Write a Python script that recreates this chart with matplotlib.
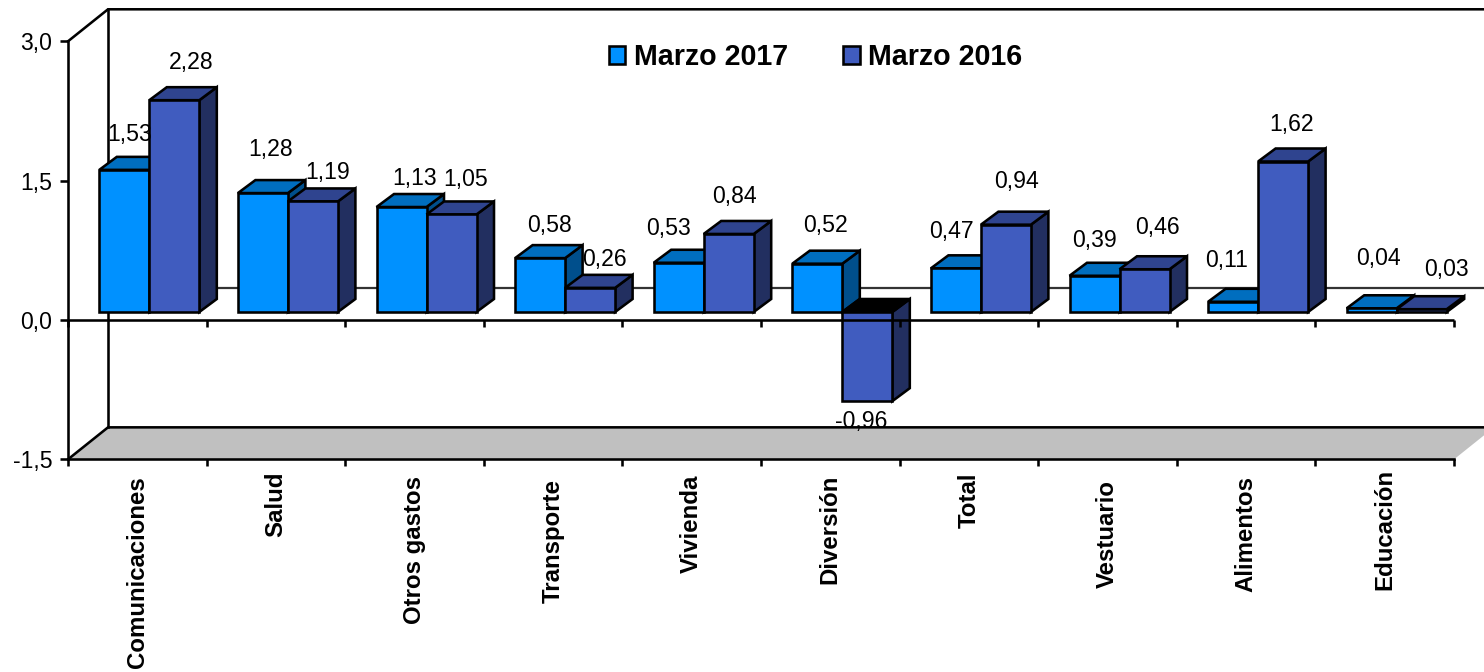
import matplotlib
matplotlib.use("Agg")
import matplotlib.pyplot as plt
from matplotlib.patches import Polygon, Patch
from matplotlib.transforms import Affine2D, IdentityTransform

plt.rcParams['font.family'] = ['Liberation Sans', 'DejaVu Sans']

# ---- data ----
categories = ['Comunicaciones', 'Salud', 'Otros gastos', 'Transporte', 'Vivienda',
              'Diversión', 'Total', 'Vestuario', 'Alimentos', 'Educación']
marzo_2017 = [1.53, 1.28, 1.13, 0.58, 0.53, 0.52, 0.47, 0.39, 0.11, 0.04]
marzo_2016 = [2.28, 1.19, 1.05, 0.26, 0.84, -0.96, 0.94, 0.46, 1.62, 0.03]
value_ticks = [-1.5, 0.0, 1.5, 3.0]

# ---- layout (pixels) ----
W, H = 1484, 672
X0_PX, Y0_PX = 68, 320
PX_CAT, PX_VAL = 138.6, 92.9
to_cat = lambda px: px / PX_CAT
to_val = lambda px: px / PX_VAL
WALL_X, WALL_Y = to_cat(40), to_val(32)
BASE_X, BASE_Y = to_cat(12), to_val(8)
DEPTH_X, DEPTH_Y = to_cat(17.5), to_val(13)
BAR_W = to_cat(50)
LW = 1.85
FS = 16.6

# label offsets in pixels from the bar's top-centre
off_2017 = [(5, 35), (8, 44), (13, 29), (9, 33), (-10, 34), (8, 38), (-4, 37), (0, 35), (-7, 41), (7, 50)]
off_2016 = [(17, 38), (15, 29), (14, 35), (14, 28), (6, 37), (-6, -20), (11, 43), (13, 42), (8, 37), (25, 40)]
cat_shift = [1, -4, 1, 4, -1, -1, -3, 5, 1, -6]

C17 = ('#0091FF', '#006EBF', '#004F8C')
C16 = ('#405CBF', '#2F448F', '#222F60')
K = 'black'

fig = plt.figure(figsize=(W / 100, H / 100), dpi=100, facecolor='white')
ax = fig.add_axes([0, 0, 1, 1])
ax.set_xlim(to_cat(-X0_PX), to_cat(W - X0_PX))
ax.set_ylim(to_val(Y0_PX - H), to_val(Y0_PX))

n = len(categories)
# floor
ax.add_patch(Polygon([(0, -1.5), (WALL_X, -1.5 + WALL_Y), (n + WALL_X, -1.5 + WALL_Y), (n, -1.5)],
                     closed=True, fc='#C0C0C0', ec='none', zorder=0.5))
# walls
wall = dict(color=K, lw=LW, zorder=1, solid_capstyle='projecting')
ax.plot([WALL_X, WALL_X], [-1.5 + WALL_Y, 3 + WALL_Y], **wall)
ax.plot([0, WALL_X, n + WALL_X], [3, 3 + WALL_Y, 3 + WALL_Y], **wall)
ax.plot([0, WALL_X, n + WALL_X], [-1.5, -1.5 + WALL_Y, -1.5 + WALL_Y], **wall)
ax.plot([WALL_X, n + WALL_X], [WALL_Y, WALL_Y], color='#333333', lw=1.6, zorder=1)


def bar3d(cx, width, value, colors):
    """Front, top and side faces of a single bar starting at the zero base."""
    x0, x1 = cx + BASE_X, cx + BASE_X + width
    b, t = BASE_Y, BASE_Y + value
    hi = max(b, t)
    front, top, side = colors
    top_c = K if value < 0 else top
    style = dict(closed=True, ec=K, lw=LW, joinstyle='miter', zorder=2)
    ax.add_patch(Polygon([(x1, b), (x1 + DEPTH_X, b + DEPTH_Y), (x1 + DEPTH_X, t + DEPTH_Y), (x1, t)], fc=side, **style))
    ax.add_patch(Polygon([(x0, hi), (x0 + DEPTH_X, hi + DEPTH_Y), (x1 + DEPTH_X, hi + DEPTH_Y), (x1, hi)], fc=top_c, **style))
    ax.add_patch(Polygon([(x0, b), (x1, b), (x1, t), (x0, t)], fc=front, **style))


for i in range(n):
    c = i + 0.5
    bar3d(c - BAR_W, BAR_W, marzo_2017[i], C17)
    bar3d(c, BAR_W, marzo_2016[i], C16)

for i in range(n):
    c = i + 0.5
    for v, off, xc in ((marzo_2017[i], off_2017[i], c - BAR_W / 2),
                       (marzo_2016[i], off_2016[i], c + BAR_W / 2)):
        ax.annotate(f'{v:.2f}'.replace('.', ','), xy=(xc + BASE_X, v + BASE_Y),
                    xytext=off, textcoords='offset pixels', ha='center', va='center',
                    fontsize=FS, color=K, zorder=5)

# front axes
for s in ('top', 'right'):
    ax.spines[s].set_visible(False)
ax.spines['left'].set_position(('data', 0))
ax.spines['left'].set_bounds(-1.5, 3)
ax.spines['bottom'].set_position(('data', -1.5))
ax.spines['bottom'].set_bounds(0, n)
for s in ('left', 'bottom'):
    ax.spines[s].set_linewidth(LW)
    ax.spines[s].set_zorder(3)
ax.set_yticks(value_ticks)
ax.set_yticklabels([f'{v:.1f}'.replace('.', ',') for v in value_ticks], fontsize=FS)
ax.tick_params(axis='y', length=5.76, width=LW, pad=5.5, zorder=3)
ax.set_xticks(range(n + 1))
ax.set_xticklabels([])
ax.tick_params(axis='x', which='major', length=5.2, width=LW)
ax.set_xticks([i + 0.5 for i in range(n)], minor=True)
ax.set_xticklabels(categories, minor=True, rotation=90, fontsize=17.3, fontweight='bold', va='top', ha='center')
ax.tick_params(axis='x', which='minor', length=0, pad=11.5)
for lab, sh in zip(ax.xaxis.get_minorticklabels(), cat_shift):
    lab.set_transform(lab.get_transform() + Affine2D().translate(0, -sh))

# zero axis in front of the bars
ax.hlines(0, 0, n, color=K, lw=LW, zorder=3)
ax.vlines(range(n + 1), -to_val(7), 0, color=K, lw=LW, zorder=3)

leg = ax.legend(handles=[Patch(fc=C17[0], ec=K, lw=LW), Patch(fc=C16[0], ec=K, lw=LW)],
                labels=['Marzo 2017', 'Marzo 2016'], ncol=2, frameon=False,
                loc='center left', bbox_to_anchor=(609, H - 57), bbox_transform=IdentityTransform(),
                prop=dict(weight='bold', size=20.6), handlelength=0.57, handleheight=0.57,
                handletextpad=0.31, columnspacing=1.92, borderpad=0, borderaxespad=0)

fig.savefig('out.png', dpi=100)
